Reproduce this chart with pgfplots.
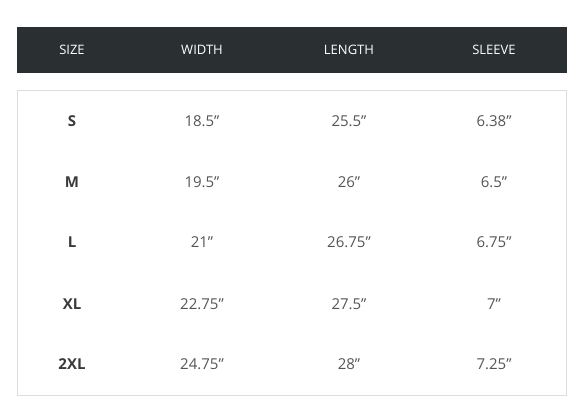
\documentclass[border=0pt]{standalone}
\usepackage{pgfplots}
\pgfplotsset{compat=1.18}
\usepackage{fontspec}
\setmainfont{Open Sans}
\definecolor{hdr}{HTML}{2A2F31}
\definecolor{val}{HTML}{555555}
\definecolor{sz}{HTML}{3A3A3A}
\definecolor{brd}{HTML}{DDDDDD}
\newcommand{\q}{\symbol{34}}
\tikzset{h/.style={white, font=\fontsize{13}{15}\selectfont},
 s/.style={sz, font=\bfseries\fontsize{15}{18}\selectfont},
 v/.style={val, font=\fontsize{15}{18}\selectfont}}
\begin{document}
\begin{tikzpicture}
\begin{axis}[scale only axis, width=583pt, height=412pt, xmin=0, xmax=583, ymin=0, ymax=412, y dir=reverse, hide axis, clip=false]
\fill[hdr] (axis cs:17,27) rectangle (axis cs:567,73);
\draw[brd, line width=1pt] (axis cs:17.5,90.5) rectangle (axis cs:566.5,395);
\node[h] at (axis cs:72,50) {SIZE};
\node[h] at (axis cs:202,50) {WIDTH};
\node[h] at (axis cs:349,50) {LENGTH};
\node[h] at (axis cs:494,50) {SLEEVE};
\node[s] at (axis cs:72,121) {S};
\node[v] at (axis cs:202,121) {18.5\q};
\node[v] at (axis cs:349,121) {25.5\q};
\node[v] at (axis cs:494,121) {6.38\q};
\node[s] at (axis cs:72,182) {M};
\node[v] at (axis cs:202,182) {19.5\q};
\node[v] at (axis cs:349,182) {26\q};
\node[v] at (axis cs:494,182) {6.5\q};
\node[s] at (axis cs:72,242) {L};
\node[v] at (axis cs:202,242) {21\q};
\node[v] at (axis cs:349,242) {26.75\q};
\node[v] at (axis cs:494,242) {6.75\q};
\node[s] at (axis cs:72,304) {XL};
\node[v] at (axis cs:202,304) {22.75\q};
\node[v] at (axis cs:349,304) {27.5\q};
\node[v] at (axis cs:494,304) {7\q};
\node[s] at (axis cs:72,364) {2XL};
\node[v] at (axis cs:202,364) {24.75\q};
\node[v] at (axis cs:349,364) {28\q};
\node[v] at (axis cs:494,364) {7.25\q};
\end{axis}
\useasboundingbox (0,0) rectangle (583pt,412pt);
\end{tikzpicture}
\end{document}
